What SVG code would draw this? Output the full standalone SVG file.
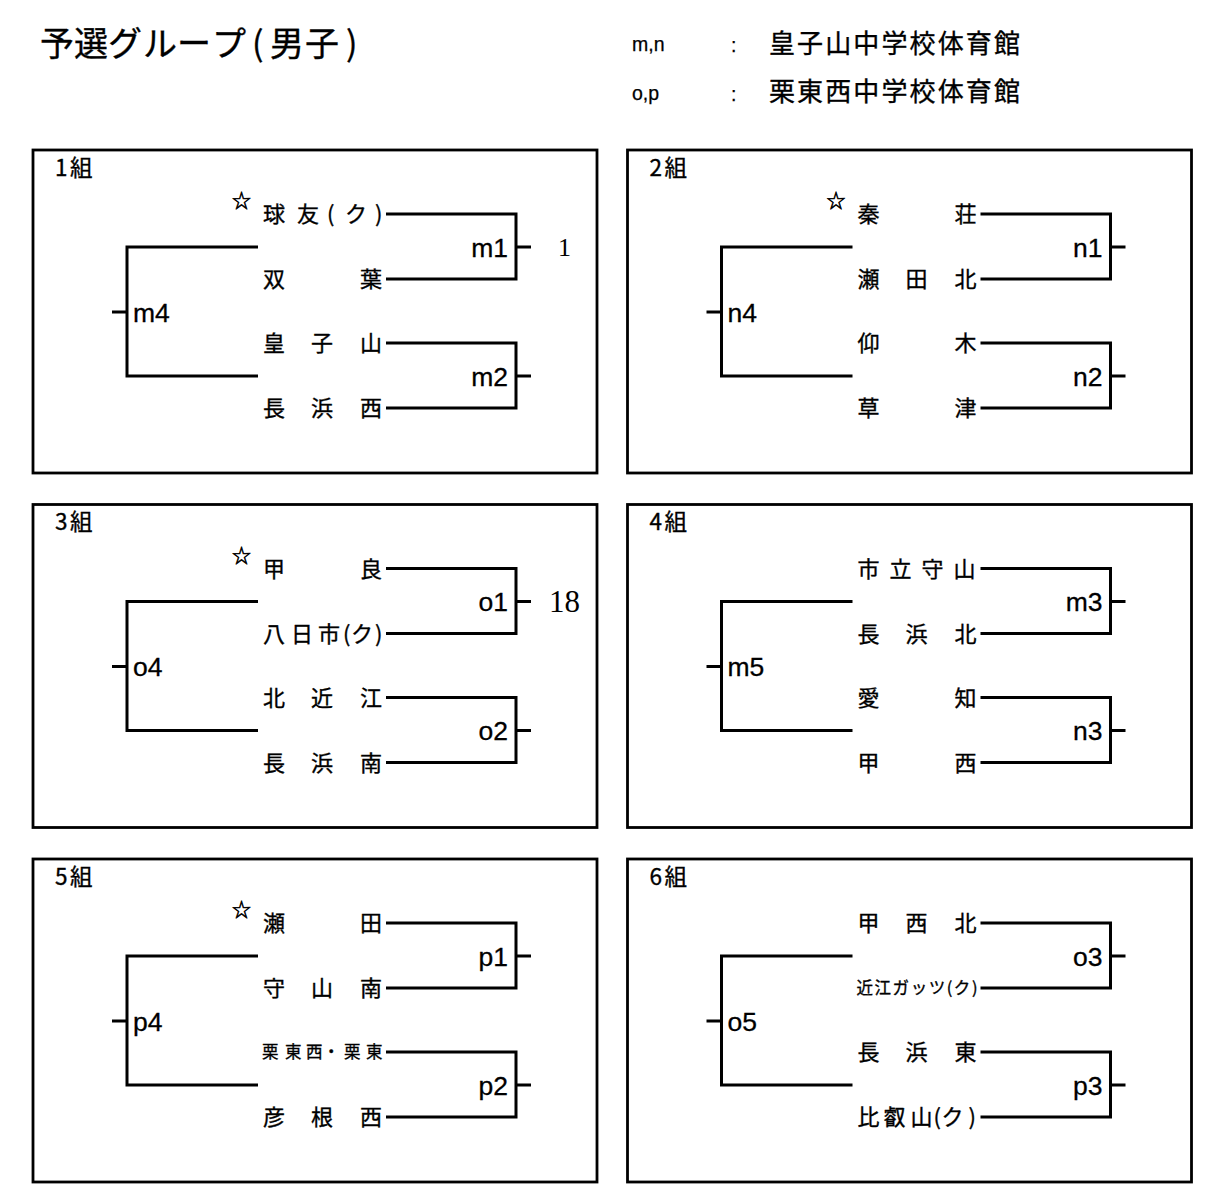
<svg xmlns="http://www.w3.org/2000/svg" xmlns:xlink="http://www.w3.org/1999/xlink" width="1222" height="1198" viewBox="0 0 1222 1198">
<style>
.box{fill:none;stroke:#000;stroke-width:2.8}
.ln{fill:none;stroke:#000;stroke-width:3}
.jp{font-family:"Noto Sans CJK JP","Noto Sans CJK SC",sans-serif;fill:#000;stroke:#000;stroke-width:0.35}
.nm{font-size:22px}
.sm{font-size:16.5px}
.gp{font-size:22.5px}
.st{font-size:19px;stroke-width:0.6}
.lb{font-family:"Liberation Sans",Arial,sans-serif;font-size:26.5px;fill:#000;stroke:#000;stroke-width:0.3}
.hd{font-family:"Liberation Sans",Arial,sans-serif;font-size:19.5px;fill:#000;stroke:#000;stroke-width:0.25}
.le{text-anchor:end}
.num{font-family:"Liberation Serif","Times New Roman",serif;fill:#000}
</style>
<defs>
<g id="bracket" class="ln">
<path d="M386,214 H516 V279 H386 M516,247 H531"/>
<path d="M386,343 H516 V408 H386 M516,376 H531"/>
<path d="M258,247 H127 V376 H258 M112,312 H127"/>
</g>
</defs>
<rect width="1222" height="1198" fill="#fff"/>
<g id="header">
<text class="jp" style="font-size:34px" x="40 74 108 143 177 212 252 270 305 346" y="55.5">予選グループ(男子)</text>
<text class="hd" x="632" y="51">m,n</text>
<text class="hd" x="731" y="52">:</text>
<text class="jp" style="font-size:26px" x="769" y="53" textLength="251">皇子山中学校体育館</text>
<text class="hd" x="632" y="100">o,p</text>
<text class="hd" x="731" y="101">:</text>
<text class="jp" style="font-size:26px" x="769" y="101" textLength="251">栗東西中学校体育館</text>
</g>
<g id="connectors">
<use xlink:href="#bracket" href="#bracket" x="0" y="0"/>
<use xlink:href="#bracket" href="#bracket" x="594.5" y="0"/>
<use xlink:href="#bracket" href="#bracket" x="0" y="354.5"/>
<use xlink:href="#bracket" href="#bracket" x="594.5" y="354.5"/>
<use xlink:href="#bracket" href="#bracket" x="0" y="709"/>
<use xlink:href="#bracket" href="#bracket" x="594.5" y="709"/>
</g>
<g id="group1">
<rect class="box" x="33" y="150" width="564" height="323"/>
<text class="jp gp" x="55 70" y="175.5">1組</text>
<text class="jp st" x="232" y="208">☆</text>
<g id="t-kyuyu"><text class="jp nm" x="263 297 327 345 375" y="222">球友(ク)</text></g>
<g id="t-futaba"><text class="jp nm" x="263 360" y="287">双葉</text></g>
<g id="t-ojiyama"><text class="jp nm" x="263 311 360" y="351">皇子山</text></g>
<g id="t-nagahamanishi"><text class="jp nm" x="263 311 360" y="416">長浜西</text></g>
<g id="m1"><text class="lb le" x="508" y="256.5">m1</text></g>
<g id="m2"><text class="lb le" x="508" y="385.5">m2</text></g>
<g id="m4"><text class="lb" x="133" y="321.5">m4</text></g>
<text class="num" x="558" y="256" font-size="26">1</text>
</g>
<g id="group2" transform="translate(594.5,0)">
<rect class="box" x="33" y="150" width="564" height="323"/>
<text class="jp gp" x="55 70" y="175.5">2組</text>
<text class="jp st" x="232" y="208">☆</text>
<g id="t-hadasho"><text class="jp nm" x="263 360" y="222">秦荘</text></g>
<g id="t-setakita"><text class="jp nm" x="263 311 360" y="287">瀬田北</text></g>
<g id="t-ogi"><text class="jp nm" x="263 360" y="351">仰木</text></g>
<g id="t-kusatsu"><text class="jp nm" x="263 360" y="416">草津</text></g>
<g id="n1"><text class="lb le" x="508" y="256.5">n1</text></g>
<g id="n2"><text class="lb le" x="508" y="385.5">n2</text></g>
<g id="n4"><text class="lb" x="133" y="321.5">n4</text></g>
</g>
<g id="group3" transform="translate(0,354.5)">
<rect class="box" x="33" y="150" width="564" height="323"/>
<text class="jp gp" x="55 70" y="175.5">3組</text>
<text class="jp st" x="232" y="208">☆</text>
<g id="t-kora"><text class="jp nm" x="263 360" y="222">甲良</text></g>
<g id="t-yokaichi"><text class="jp nm" x="263 291 318 343 351 375" y="287">八日市(ク)</text></g>
<g id="t-kitaomi"><text class="jp nm" x="263 311 360" y="351">北近江</text></g>
<g id="t-nagahamaminami"><text class="jp nm" x="263 311 360" y="416">長浜南</text></g>
<g id="o1"><text class="lb le" x="508" y="256.5">o1</text></g>
<g id="o2"><text class="lb le" x="508" y="385.5">o2</text></g>
<g id="o4"><text class="lb" x="133" y="321.5">o4</text></g>
<text class="num" x="549" y="257.5" font-size="31">18</text>
</g>
<g id="group4" transform="translate(594.5,354.5)">
<rect class="box" x="33" y="150" width="564" height="323"/>
<text class="jp gp" x="55 70" y="175.5">4組</text>
<g id="t-moriyama"><text class="jp nm" x="263 295 327 359" y="222">市立守山</text></g>
<g id="t-nagahamakita"><text class="jp nm" x="263 311 360" y="287">長浜北</text></g>
<g id="t-aichi"><text class="jp nm" x="263 360" y="351">愛知</text></g>
<g id="t-kosei"><text class="jp nm" x="263 360" y="416">甲西</text></g>
<g id="m3"><text class="lb le" x="508" y="256.5">m3</text></g>
<g id="n3"><text class="lb le" x="508" y="385.5">n3</text></g>
<g id="m5"><text class="lb" x="133" y="321.5">m5</text></g>
</g>
<g id="group5" transform="translate(0,709)">
<rect class="box" x="33" y="150" width="564" height="323"/>
<text class="jp gp" x="55 70" y="175.5">5組</text>
<text class="jp st" x="232" y="208">☆</text>
<g id="t-seta"><text class="jp nm" x="263 360" y="222">瀬田</text></g>
<g id="t-moriyamaminami"><text class="jp nm" x="263 311 360" y="287">守山南</text></g>
<g id="t-rittohnishi"><text class="jp sm" x="262 285 306 323 344 366" y="349">栗東西・栗東</text></g>
<g id="t-hikonenishi"><text class="jp nm" x="263 311 360" y="416">彦根西</text></g>
<g id="p1"><text class="lb le" x="508" y="256.5">p1</text></g>
<g id="p2"><text class="lb le" x="508" y="385.5">p2</text></g>
<g id="p4"><text class="lb" x="133" y="321.5">p4</text></g>
</g>
<g id="group6" transform="translate(594.5,709)">
<rect class="box" x="33" y="150" width="564" height="323"/>
<text class="jp gp" x="55 70" y="175.5">6組</text>
<g id="t-koseikita"><text class="jp nm" x="263 311 360" y="222">甲西北</text></g>
<g id="t-omigats"><text class="jp sm" x="262" y="285" textLength="121" lengthAdjust="spacing">近江ガッツ(ク)</text></g>
<g id="t-nagahamahigashi"><text class="jp nm" x="263 311 360" y="351">長浜東</text></g>
<g id="t-hiei"><text class="jp nm" x="263 289 316 339 347 374" y="416">比叡山(ク)</text></g>
<g id="o3"><text class="lb le" x="508" y="256.5">o3</text></g>
<g id="p3"><text class="lb le" x="508" y="385.5">p3</text></g>
<g id="o5"><text class="lb" x="133" y="321.5">o5</text></g>
</g>
</svg>
